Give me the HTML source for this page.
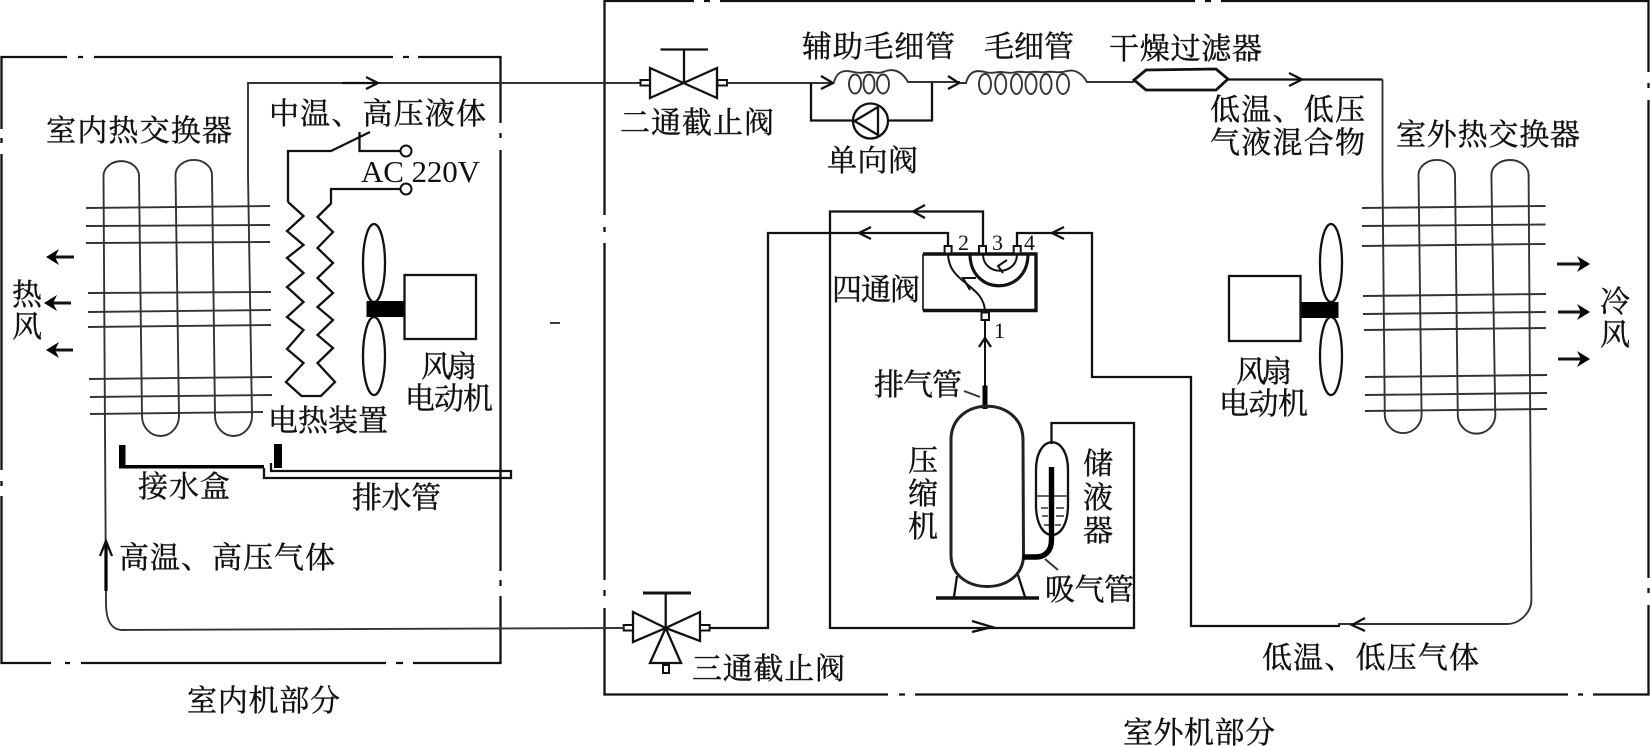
<!DOCTYPE html>
<html><head><meta charset="utf-8"><style>
html,body{margin:0;padding:0;background:#fff}
svg{display:block}
.t{font-family:"Liberation Serif","Noto Serif CJK SC",serif;font-size:30px;fill:#111;stroke:#111;stroke-width:.4}
.l{fill:none;stroke:#333;stroke-width:1.9}
.m{fill:none;stroke:#111;stroke-width:2.3}
.h{fill:none;stroke:#111;stroke-width:3}
.w{fill:#fff;stroke:#111;stroke-width:2}
.n{font-family:"Liberation Serif",serif;fill:#111}
</style></head><body>
<svg xmlns="http://www.w3.org/2000/svg" width="1650" height="746" viewBox="0 0 1650 746">
<!-- indoor box -->
<path class="m" d="M67,57H1.5V129M1.5,154V470M1.5,496V663H51M81,663H386M413,663H500.5V596M500.5,571V150M500.5,123V57H418M393,57H94"/>
<path class="m" d="M78,57h5M403,57h6M1.5,138v5M1.5,481v5M500.5,133v5M500.5,580v6M65,663h5M396,663h7"/>
<!-- outdoor box -->
<path class="m" d="M694,1H604.5V215M604.5,243V580M604.5,608V694.5H888M915,694.5H1568M1593,694.5H1648.5V605M1648.5,578V100M1648.5,72V1H1221M1195,1H720"/>
<path class="m" d="M704,1h6M1205,1h6M604.5,227v5M604.5,590v6M899,694.5h6M1578,694.5h5M1648.5,83v5M1648.5,588v5"/>
<path class="l" d="M550,323h10"/>

<!-- indoor coil -->
<path class="l" d="M123,630C112,630 106,622 106,603L103.5,175A17.8,15 0 0 1 139,175L142,416A18.5,20 0 0 0 179,416L175.5,175A18.2,15 0 0 1 212,175L215,416A18.5,20 0 0 0 252,416L248,175V83H641"/>
<path class="l" d="M86,208L270,206M86,226L270,225M86,243L270,242M88,293L271,292M88,312L271,310M88,327L271,325M89,379L272,377M90,397L272,395M90,414L263,412"/>
<!-- switch & heater -->
<path class="m" d="M331,203V189H400M288,202V151H331L370,132M359.5,132V151H400"/>
<circle class="w" cx="406" cy="151" r="5.5"/><circle class="w" cx="406" cy="189" r="5.5"/>
<path class="m" d="M288,202L303.5,216L287,231L303.5,245L287,258L303.5,273L287,287L303.5,302L287,317L303.5,330L287,349L303.5,363L286,382L301.5,396H321L335,382L317.5,363L333,348L317.5,335L333,320L317.5,307L333,293L317.5,278L333,263L317.5,248L333,232L317.5,217L331.5,203"/>
<!-- indoor fan -->
<ellipse class="m" cx="374" cy="263" rx="11" ry="39"/><ellipse class="m" cx="374" cy="356" rx="11" ry="39"/>
<rect x="366.5" y="301" width="39" height="16" fill="#000"/>
<rect class="m" x="404.5" y="275" width="71.5" height="64"/>
<!-- air arrows left -->
<path class="h" d="M74,257H50M71,303H48M73,350H50"/>
<path fill="#000" d="M46,257l13,-8l-4,8l4,8zM44,303l13,-8l-4,8l4,8zM46,350l13,-8l-4,8l4,8z"/>
<!-- drip tray -->
<path d="M119,445h6.5v20H264v3.5H119zM274,444h8v24h-8z" fill="#000"/>
<path class="m" d="M264,468V478H511V471H271V463"/>
<!-- up arrow -->
<path d="M106,591V545" stroke="#000" stroke-width="3.2" fill="none"/>
<path class="m" d="M100,556L106,541L112,556"/>
<!-- top arrow -->
<path class="m" d="M342,83H375M366,77L378,83L366,89"/>

<!-- 2-way valve -->
<path class="m" d="M650,68V98L717,68V98ZM684,83V49.5M660.5,49.5H708"/>
<rect class="w" x="640.5" y="80" width="9.5" height="5.5"/><rect class="w" x="717.5" y="80" width="9.5" height="5.5"/>
<path class="l" d="M727,83H834"/>
<!-- aux capillary -->
<path class="m" d="M821,76L833,83L821,89"/>
<path class="l" d="M834,82C838,68 848,71 854,72C862,74 864,72 868,72C874,72 878,74 883,72C890,69 900,68 908,82H960"/>
<ellipse class="l" cx="855" cy="84" rx="6" ry="9.5"/><ellipse class="l" cx="869" cy="84" rx="5.5" ry="9.5"/><ellipse class="l" cx="883" cy="84" rx="6" ry="9.5"/>
<path class="m" d="M811,83V120.5H853M932,83V120.5H888"/>
<circle class="m" cx="870.5" cy="121" r="17.5"/>
<path class="m" d="M878,107V135L854.5,121Z"/>
<!-- capillary -->
<path class="m" d="M948,76L959,83L948,89"/>
<path class="l" d="M960,83H966C970,68 980,71 985,72C992,74 995,72 1000,72C1006,72 1010,74 1016,72C1022,71 1026,73 1031,72C1036,71 1040,73 1046,72C1052,71 1056,73 1063,72C1072,69 1080,70 1087,82H1134"/>
<ellipse class="l" cx="985" cy="84" rx="6" ry="10"/><ellipse class="l" cx="1000.7" cy="84" rx="5.5" ry="10"/><ellipse class="l" cx="1016.5" cy="84" rx="5.5" ry="10"/><ellipse class="l" cx="1031" cy="84" rx="5.5" ry="10"/><ellipse class="l" cx="1046" cy="84" rx="5.5" ry="10"/><ellipse class="l" cx="1063" cy="84" rx="6" ry="10"/>
<!-- filter -->
<path class="m" style="stroke-width:2.8" d="M1134,80L1146,70L1216,69L1228,79L1216,90L1146,90Z"/>
<path class="m" d="M1228,79.5H1382.5"/>
<path class="m" d="M1289,73L1302,79.5L1289,86"/>

<!-- outdoor coil -->
<path class="l" d="M1382.5,79.5V175L1384.8,416A18.5,19 0 0 0 1421.6,416L1418.5,175A18.2,15 0 0 1 1455,175L1457.8,416A18.8,19 0 0 0 1495.3,416L1491.4,175A18.6,15 0 0 1 1528.6,175L1531.4,600C1531.4,612 1520,624 1507,624H1338"/>
<path class="l" d="M1362,208L1545.5,206M1362,226L1545.5,224.5M1362,246L1545.5,244M1363,296L1546,294M1363,314L1546,312M1364,330L1546,328M1365,377L1547,375M1365,395L1547,393M1365,411L1547,409"/>
<!-- outdoor fan -->
<ellipse class="m" cx="1331" cy="263" rx="11" ry="39"/><ellipse class="m" cx="1331" cy="356" rx="11" ry="39"/>
<rect x="1300" y="302" width="38.5" height="16" fill="#000"/>
<rect class="m" x="1229" y="276" width="71.5" height="65"/>
<path class="h" d="M1557,264H1586M1558,312H1586M1558,359H1586"/>
<path fill="#000" d="M1590,264l-13,-8l4,8l-4,8zM1590,312l-13,-8l4,8l-4,8zM1590,359l-13,-8l4,8l-4,8z"/>

<!-- four-way valve -->
<path class="l" d="M923,254V310.5"/>
<path d="M923,254H1036V310.5H923" fill="none" stroke="#111" stroke-width="3.4"/>
<rect class="w" x="944.6" y="246" width="7" height="7.5"/>
<rect class="w" x="979" y="246" width="7" height="7.5"/>
<rect class="w" x="1013.7" y="246" width="7" height="7.5"/>
<rect class="w" x="981.5" y="312.5" width="7.5" height="7.5"/>
<path class="m" style="stroke-width:2" d="M948,255C949,268 955,274 962,280C974,290 984,296 985,311"/>
<path class="m" style="stroke-width:2" d="M970,290L963,278L976,278"/>
<path class="m" style="stroke-width:2" d="M983,255C984,276 1016,276 1017,255"/>
<path class="m" style="stroke-width:2" d="M1007,260L998,266L1003,273"/>
<path d="M970,255C971,296 1027,296 1028,255" fill="none" stroke="#111" stroke-width="3.2"/>
<!-- four-way connections -->
<path class="m" d="M948,246V233H768V628H710"/>
<path class="m" d="M983,246V211.5H830V628H1134V423H1051.5V444"/>
<path class="m" d="M1017,246V233H1092V377H1191V626H1340"/>
<path class="m" d="M925,205L913,211.5L925,218M871,227L859,233L871,239M1064,227L1052,233L1064,239M1365,618L1352,625L1365,631"/>
<path class="m" d="M972,621L992,627L972,632"/>
<path class="m" style="stroke-width:2" d="M985,320V386"/>
<path class="m" d="M979,347L985,338L991,347"/>
<path d="M985,385.5V409" stroke="#000" stroke-width="5" fill="none"/>
<path class="l" d="M964,391L980,397M1045,559L1058,570"/>
<!-- compressor -->
<path d="M951,440C951,395 1023,395 1023,440L1023.5,555C1023.5,597 951,597 951,555Z" fill="none" stroke="#222" stroke-width="3"/>
<path class="m" d="M957,576L954,597M1018,575L1025,597"/>
<path d="M936,598H1039" stroke="#111" stroke-width="3.4"/>
<!-- accumulator -->
<path class="m" d="M1036,470C1036,433 1068,433 1068,470V505C1068,545 1036,545 1036,505Z"/>
<path class="l" style="stroke-width:1.5" d="M1036,496H1068M1041,508h7M1056,508h8M1042,516h6M1056,516h8M1044,525h5M1055,525h6"/>
<path d="M1051.5,467V540C1051.5,552 1044,557 1036,557H1023" fill="none" stroke="#000" stroke-width="5.4"/>
<!-- 3-way valve -->
<path class="m" d="M665.7,628L633,642V612ZM665.7,628L700,641V612ZM665.7,628L650,663H681Z"/>
<path class="m" d="M665.7,628V593"/>
<path d="M643,593H691" stroke="#111" stroke-width="3"/>
<rect class="w" x="623.7" y="625" width="9.3" height="5.5"/><rect class="w" x="700" y="625" width="9.6" height="5.5"/><rect class="w" x="663" y="665" width="6" height="8"/>
<path class="l" d="M123,630L624,628"/>

<!-- labels -->
<g class="t">
<text x="46" y="141" textLength="186">室内热交换器</text>
<text x="269" y="124" textLength="217">中温、高压液体</text>
<text x="12" y="305">热</text><text x="12" y="337">风</text>
<text x="421" y="377" textLength="56">风扇</text>
<text x="405" y="409" textLength="88">电动机</text>
<text x="268" y="431" textLength="120">电热装置</text>
<text x="138" y="497" textLength="92">接水盒</text>
<text x="352" y="508" textLength="89">排水管</text>
<text x="119" y="568" textLength="216">高温、高压气体</text>
<text x="187" y="711" textLength="153">室内机部分</text>
<text x="620" y="133" textLength="154">二通截止阀</text>
<text x="802" y="57" textLength="153">辅助毛细管</text>
<text x="984" y="57" textLength="90">毛细管</text>
<text x="827" y="171" textLength="91">单向阀</text>
<text x="1109" y="59" textLength="153">干燥过滤器</text>
<text x="1210" y="120" textLength="155">低温、低压</text>
<text x="1210" y="153" textLength="155">气液混合物</text>
<text x="1396" y="145" textLength="184">室外热交换器</text>
<text x="1600" y="312">冷</text><text x="1600" y="345">风</text>
<text x="1236" y="382" textLength="56">风扇</text>
<text x="1219" y="414" textLength="89">电动机</text>
<text x="832" y="300" textLength="88">四通阀</text>
<text x="874" y="395" textLength="88">排气管</text>
<text x="908" y="471">压</text><text x="908" y="504">缩</text><text x="908" y="537">机</text>
<text x="1083" y="474">储</text><text x="1083" y="508">液</text><text x="1083" y="541">器</text>
<text x="1045" y="600" textLength="89">吸气管</text>
<text x="692" y="679" textLength="153">三通截止阀</text>
<text x="1262" y="668" textLength="217">低温、低压气体</text>
<text x="1123" y="743" textLength="152">室外机部分</text>
</g>
<text class="n" x="361" y="182" font-size="31" textLength="119">AC 220V</text>
<g class="n" font-size="22">
<text x="958" y="250">2</text><text x="992" y="250">3</text><text x="1024" y="250">4</text><text x="994" y="338">1</text>
</g>
</svg>
</body></html>
